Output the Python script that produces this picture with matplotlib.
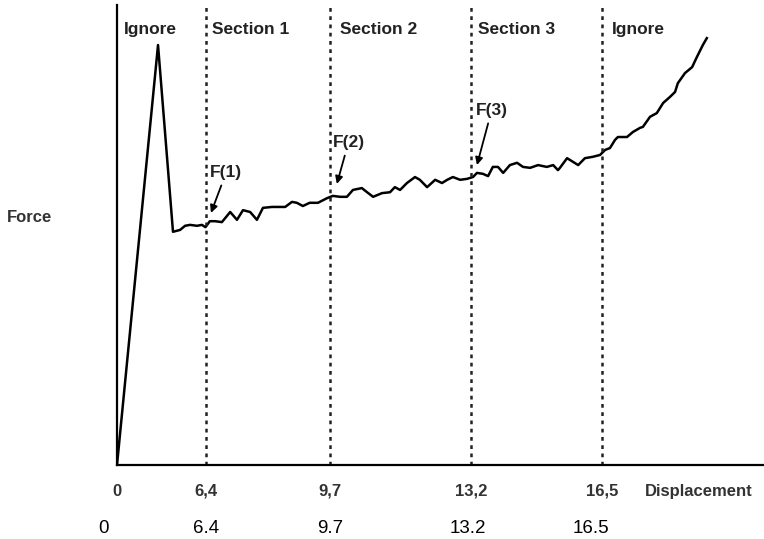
import numpy as np
import matplotlib
matplotlib.use("Agg")
import matplotlib.pyplot as plt
from matplotlib import transforms

plt.rcParams['font.family'] = ['Liberation Sans', 'DejaVu Sans']

# force vs displacement (force in arbitrary units)
disp = [0, 2.96, 4.04, 4.55, 4.91, 5.27, 5.77, 6.13, 6.38, 6.51,
        6.65, 6.83, 7.05, 7.23, 7.39, 7.58, 7.76, 7.92, 8.16, 8.51,
        8.69, 8.82, 8.98, 9.16, 9.38, 9.62, 9.77, 9.95, 10.12, 10.27,
        10.49, 10.62, 10.77, 10.99, 11.19, 11.31, 11.44, 11.61, 11.81, 11.93,
        12.11, 12.31, 12.48, 12.61, 12.75, 12.93, 13.10, 13.25, 13.35, 13.50,
        13.63, 13.75, 13.88, 14.01, 14.18, 14.36, 14.51, 14.69, 14.89, 15.11,
        15.27, 15.39, 15.44, 15.62, 15.77, 15.90, 16.07, 16.27, 16.45, 16.58,
        16.70, 16.83, 16.90, 17.13, 17.28, 17.46, 17.53, 17.71, 17.88, 18.04,
        18.21, 18.34, 18.41, 18.59, 18.77, 18.89, 19.04, 19.14]
force = [0, 91.3, 50.7, 51.1, 52.0, 52.2, 52.0, 52.2, 51.7, 53.0,
         53.0, 52.8, 55.0, 53.3, 55.4, 55.0, 53.3, 55.9, 56.1, 56.1,
         57.2, 57.0, 56.3, 57.0, 57.0, 58.0, 58.5, 58.3, 58.3, 59.8,
         60.2, 59.3, 58.3, 59.1, 59.3, 60.4, 59.8, 61.3, 62.6, 62.0,
         60.4, 62.0, 61.3, 62.0, 62.6, 62.0, 62.2, 62.6, 63.5, 63.3,
         62.8, 64.8, 64.8, 63.5, 65.2, 65.7, 64.8, 64.6, 65.2, 64.8,
         65.2, 64.1, 64.6, 66.7, 65.9, 65.2, 66.7, 67.0, 67.4, 68.5,
         68.9, 70.7, 71.3, 71.3, 72.4, 73.3, 73.5, 75.7, 76.5, 78.7,
         80.0, 81.1, 83.0, 85.2, 86.5, 88.7, 91.3, 92.8]

edges = [0, 6.4, 9.7, 13.2, 16.5]
edge_labels_sketch = ['0', '6,4', '9,7', '13,2', '16,5']
edge_labels = ['0', '6.4', '9.7', '13.2', '16.5']
region_names = ['Ignore', 'Section 1', 'Section 2', 'Section 3', 'Ignore']
region_x = [0.5, 6.57, 9.95, 13.38, 16.75]

f_labels = ['F(1)', 'F(2)', 'F(3)']
f_points = [(6.54, 54.8), (9.87, 61.1), (13.35, 65.2)]
f_text = [(6.51, 62.6), (9.77, 69.1), (13.33, 76.1)]

# the sketch is not to scale: each section gets its own spacing
sk_d = [-5, 0, 6.4, 9.7, 13.2, 16.5, 25]
sk_p = [47.7, 117, 205.7, 330, 471, 602, 939.5]


def fwd(x):
    return np.interp(x, sk_d, sk_p)


def inv(p):
    return np.interp(p, sk_p, sk_d)


fig = plt.figure(figsize=(7.64, 5.39), dpi=100)
ax = fig.add_axes([117 / 764, 74 / 539, 647 / 764, 460 / 539])
ax.set_xscale('function', functions=(fwd, inv))
ax.set_xlim(0, 20.58)
ax.set_ylim(0, 100)

ax.plot(disp, force, color='black', lw=1.8, solid_joinstyle='round')

for e in edges[1:]:
    ax.axvline(e, color='#222222', lw=1.8, ls=(0, (1.5, 1.8)))

for name, x in zip(region_names, region_x):
    ax.text(x, 93.7, name, ha='left', va='baseline', fontsize=12.5,
            fontweight='bold', color='#222222')

for lab, pt, tx in zip(f_labels, f_points, f_text):
    ax.annotate(lab, xy=pt, xytext=tx, ha='left', va='baseline',
                fontsize=12.5, fontweight='bold', color='#222222',
                arrowprops=dict(arrowstyle='-|>', color='black', lw=1.3,
                                mutation_scale=11, shrinkA=2, shrinkB=0,
                                relpos=(0.42, 0)))

trans = transforms.blended_transform_factory(ax.transData, ax.transAxes)
for e, lab in zip(edges, edge_labels_sketch):
    ax.text(e, -0.057, lab, transform=trans, ha='center', va='center',
            fontsize=12, fontweight='bold', color='#333333')
ax.text(17.58, -0.057, 'Displacement', transform=trans, ha='left',
        va='center', fontsize=12, fontweight='bold', color='#333333')
ax.text(-0.1345, 0.539, 'Force', transform=ax.transAxes, ha='center',
        va='center', fontsize=12, fontweight='bold', color='#333333')

# plain labels underneath, nudged as in the original
nudge = [-14, 0, 0, -3, -11]
for e, lab, dx in zip(edges, edge_labels, nudge):
    off = transforms.ScaledTranslation(dx / 100, 0, fig.dpi_scale_trans)
    ax.text(e, -0.139, lab, transform=trans + off, ha='center', va='center',
            fontsize=13.5, color='black')

ax.set_xticks([])
ax.set_yticks([])
for s in ['top', 'right']:
    ax.spines[s].set_visible(False)
for s in ['left', 'bottom']:
    ax.spines[s].set_linewidth(1.6)

fig.savefig('out.png', dpi=100)
